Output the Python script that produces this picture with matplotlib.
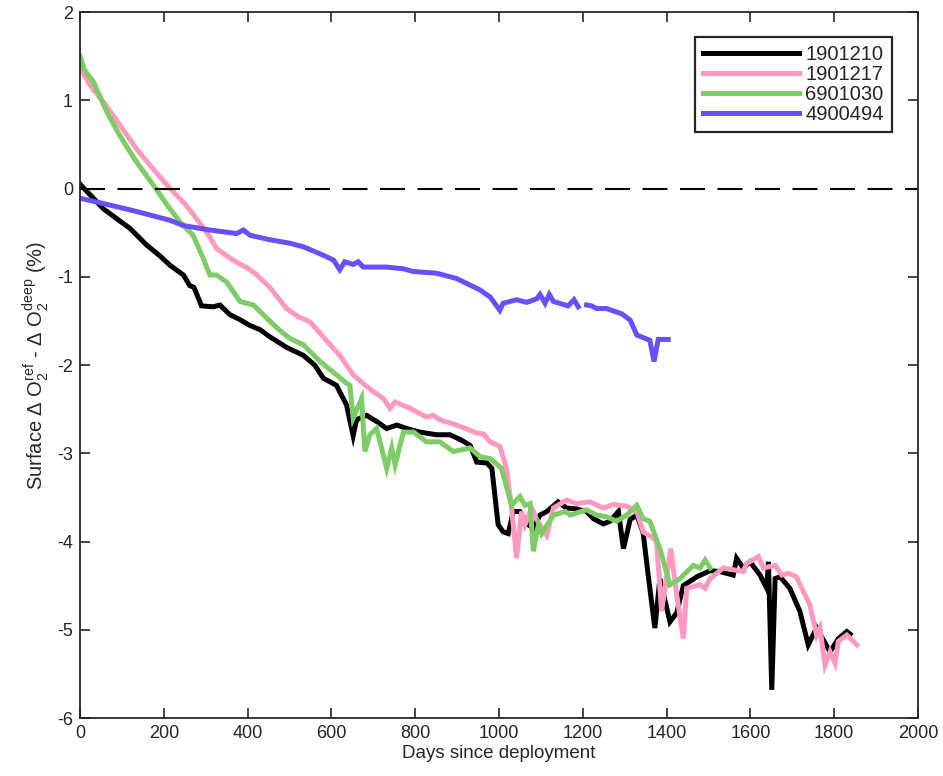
import numpy as np
import matplotlib
matplotlib.use('Agg')
import matplotlib.pyplot as plt

plt.rcParams['font.family'] = ['Liberation Sans', 'DejaVu Sans']
plt.rcParams['mathtext.default'] = 'regular'
plt.rcParams['axes.unicode_minus'] = False

# float 1901210
days_1901210 = [0, 20, 56, 90, 119, 159, 190, 215, 247, 262, 272, 279, 290, 318, 334, 358, 380,
                405, 430, 453, 493, 533, 560, 581, 612, 636, 652, 660, 684, 708, 732, 756, 780,
                811, 851, 883, 910, 931, 947, 971, 983, 998, 1010, 1022, 1034, 1050, 1070, 1082,
                1098, 1114, 1141, 1161, 1185, 1209, 1225, 1249, 1265, 1285, 1297, 1313, 1329,
                1344, 1356, 1372, 1384, 1408, 1424, 1440, 1472, 1504, 1527, 1559, 1567, 1583,
                1599, 1623, 1639, 1643, 1651, 1659, 1671, 1694, 1718, 1738, 1758, 1790, 1810,
                1830, 1838]
do2_1901210 = [0.05, -0.05, -0.23, -0.35, -0.45, -0.64, -0.76, -0.87, -0.98, -1.1, -1.12, -1.2,
               -1.33, -1.34, -1.32, -1.43, -1.48, -1.55, -1.6, -1.68, -1.8, -1.89, -2.0, -2.15,
               -2.23, -2.45, -2.8, -2.62, -2.57, -2.64, -2.72, -2.68, -2.72, -2.76, -2.79, -2.79,
               -2.85, -2.91, -3.1, -3.11, -3.17, -3.81, -3.89, -3.91, -3.66, -3.66, -3.81, -3.85,
               -3.7, -3.66, -3.55, -3.62, -3.63, -3.66, -3.74, -3.8, -3.77, -3.66, -4.08, -3.75,
               -3.7, -3.9, -4.38, -4.98, -4.42, -4.91, -4.81, -4.5, -4.4, -4.33, -4.34, -4.38,
               -4.19, -4.3, -4.23, -4.38, -4.53, -4.23, -5.68, -4.42, -4.40, -4.53, -4.79, -5.17,
               -4.98, -5.25, -5.1, -5.02, -5.05]

# float 1901217
days_1901217 = [0, 20, 56, 95, 135, 175, 215, 250, 278, 295, 310, 326, 358, 380, 400, 420, 453,
                493, 520, 549, 575, 597, 620, 652, 676, 700, 724, 740, 752, 788, 827, 843, 859,
                899, 947, 963, 979, 1002, 1018, 1030, 1042, 1054, 1062, 1078, 1090, 1114, 1130,
                1161, 1185, 1217, 1249, 1273, 1305, 1329, 1344, 1368, 1376, 1388, 1410, 1424,
                1440, 1448, 1480, 1492, 1504, 1535, 1559, 1583, 1591, 1619, 1631, 1659, 1675,
                1691, 1710, 1730, 1742, 1758, 1766, 1778, 1790, 1802, 1810, 1830, 1854]
do2_1901217 = [1.38, 1.2, 0.98, 0.72, 0.45, 0.22, 0.0, -0.17, -0.34, -0.45, -0.55, -0.68, -0.79,
               -0.85, -0.9, -0.97, -1.12, -1.36, -1.45, -1.51, -1.65, -1.77, -1.89, -2.11, -2.21,
               -2.30, -2.38, -2.49, -2.42, -2.49, -2.59, -2.57, -2.62, -2.68, -2.77, -2.78, -2.87,
               -2.92, -3.17, -3.62, -4.19, -3.66, -3.81, -3.62, -3.75, -3.93, -3.62, -3.53, -3.57,
               -3.55, -3.62, -3.58, -3.6, -3.66, -3.89, -3.96, -4.0, -4.79, -4.08, -4.6, -5.10,
               -4.53, -4.49, -4.53, -4.42, -4.30, -4.32, -4.34, -4.25, -4.17, -4.30, -4.27,
               -4.38, -4.36, -4.40, -4.6, -4.72, -5.06, -4.98, -5.40, -5.25, -5.38, -5.13,
               -5.06, -5.17]

# float 6901030
days_6901030 = [0, 10, 32, 64, 95, 135, 175, 210, 239, 270, 294, 310, 326, 350, 366, 382, 414,
                446, 475, 501, 533, 573, 612, 632, 644, 652, 672, 680, 692, 708, 732, 744, 752,
                772, 796, 827, 859, 891, 931, 955, 979, 1006, 1030, 1050, 1062, 1074, 1082, 1094,
                1102, 1130, 1158, 1170, 1209, 1233, 1257, 1281, 1305, 1329, 1344, 1360, 1384,
                1408, 1432, 1464, 1480, 1492, 1504]
do2_6901030 = [1.5, 1.35, 1.21, 0.87, 0.60, 0.30, 0.04, -0.2, -0.38, -0.53, -0.79, -0.98, -0.98,
               -1.06, -1.17, -1.28, -1.32, -1.47, -1.6, -1.70, -1.77, -1.96, -2.11, -2.19, -2.23,
               -2.60, -2.38, -2.98, -2.79, -2.72, -3.17, -2.94, -3.13, -2.76, -2.76, -2.87,
               -2.87, -2.98, -2.94, -3.04, -3.06, -3.17, -3.59, -3.49, -3.59, -3.57, -4.11,
               -3.81, -3.91, -3.70, -3.66, -3.70, -3.64, -3.70, -3.72, -3.77, -3.70, -3.59,
               -3.74, -3.77, -4.08, -4.49, -4.42, -4.27, -4.3, -4.21, -4.30]

# float 4900494 (missing profile around day 1198)
days_4900494 = [0, 56, 135, 215, 247, 310, 374, 390, 406, 453, 501, 533, 573, 605, 620, 632, 652,
                664, 676, 732, 772, 795, 851, 899, 955, 979, 1002, 1010, 1042, 1066, 1090, 1098,
                1110, 1120, 1130, 1165, 1179, 1189, 1198, 1209, 1221, 1233, 1257, 1281, 1293,
                1313, 1329, 1360, 1370, 1380, 1404]
do2_4900494 = [-0.11, -0.17, -0.26, -0.36, -0.42, -0.47, -0.51, -0.47, -0.53, -0.58, -0.62, -0.66,
               -0.74, -0.81, -0.92, -0.83, -0.86, -0.83, -0.89, -0.89, -0.91, -0.94, -0.96, -1.02,
               -1.15, -1.23, -1.38, -1.30, -1.26, -1.29, -1.25, -1.20, -1.30, -1.20, -1.28, -1.33,
               -1.26, -1.34, np.nan, -1.32, -1.33, -1.36, -1.36, -1.40, -1.42, -1.49, -1.66, -1.72,
               -1.96, -1.71, -1.71]

float_ids = ['1901210', '1901217', '6901030', '4900494']
colors = ['#000000', '#ff99c0', '#7dcc66', '#6650ff']

fig = plt.figure(figsize=(9.43, 7.76), dpi=100)
ax = fig.add_axes([0.0848, 0.0747, 0.8887, 0.9098])

series = [(days_1901210, do2_1901210), (days_1901217, do2_1901217),
          (days_6901030, do2_6901030), (days_4900494, do2_4900494)]
for (d, v), name, c in zip(series, float_ids, colors):
    ax.plot(d, v, color=c, lw=3.6, label=name, solid_joinstyle='miter')

ax.axhline(0, color='black', lw=1.5, dashes=(12, 6))

ax.set_xlim(0, 2000)
ax.set_ylim(-6, 2)
ax.set_xticks(np.arange(0, 2001, 200))
ax.set_yticks(np.arange(-6, 3, 1))

txt = '#262626'
ax.tick_params(direction='in', length=7, width=1.2, top=True, right=True,
               labelsize=13, colors=txt, pad=5)
for s in ax.spines.values():
    s.set_color(txt)
    s.set_linewidth(1.3)

ax.set_xlabel('Days since deployment', fontsize=13.5, color=txt, labelpad=2)
ax.set_ylabel('Surface Δ O$_2^{ref}$ - Δ O$_2^{deep}$ (%)', fontsize=14.5, color=txt, labelpad=4)

leg = ax.legend(loc='upper right', bbox_to_anchor=(0.969, 0.965), fontsize=14.5,
                handlelength=4.8, handletextpad=0.3, labelspacing=0.05,
                borderpad=0.4, borderaxespad=0, fancybox=False, framealpha=1)
leg.get_frame().set_edgecolor('#262626')
leg.get_frame().set_linewidth(1.6)
for t in leg.get_texts():
    t.set_color(txt)

fig.savefig('out.png', dpi=100)
